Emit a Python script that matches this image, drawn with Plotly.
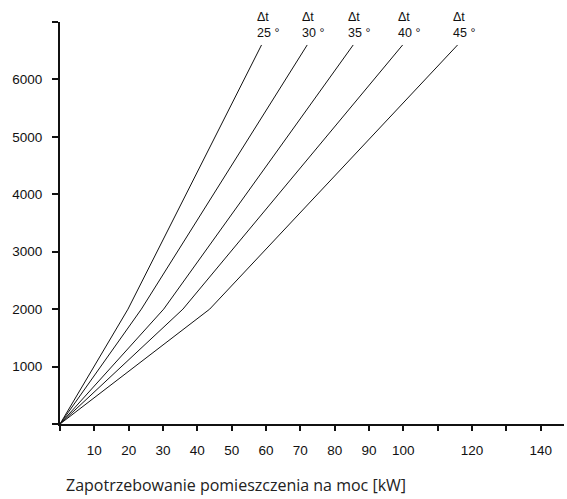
import plotly.graph_objects as go

# Data
series_labels = ["25 °", "30 °", "35 °", "40 °", "45 °"]
x_origin = [0, 0, 0, 0, 0]
y_origin = [0, 0, 0, 0, 0]
x_knee = [19.8, 23.7, 30.2, 35.8, 43.6]
y_knee = [2000, 2000, 2000, 2000, 2000]
x_top = [58.7, 72.0, 85.4, 99.8, 115.8]
y_top = [6600, 6600, 6600, 6600, 6600]

x_tickvals = list(range(0, 150, 10))
x_ticktext = ["", "10", "20", "30", "40", "50", "60", "70", "80", "90", "100", "", "120", "", "140"]
y_tickvals = list(range(0, 8000, 1000))
y_ticktext = ["", "1000", "2000", "3000", "4000", "5000", "6000", ""]

x_title = "Zapotrzebowanie pomieszczenia na moc [kW]"

fig = go.Figure()
for i, lab in enumerate(series_labels):
    fig.add_trace(go.Scatter(
        x=[x_origin[i], x_knee[i], x_top[i]],
        y=[y_origin[i], y_knee[i], y_top[i]],
        mode="lines",
        line=dict(color="#111111", width=1),
        showlegend=False,
        hoverinfo="skip",
    ))
    fig.add_annotation(
        x=x_top[i], y=y_top[i], xref="x", yref="y",
        text="Δt<br>" + lab, showarrow=False,
        xanchor="left", yanchor="bottom", align="left",
        xshift=-7, yshift=3,
        font=dict(family="Liberation Sans", size=12.5, color="#111111"),
    )

fig.add_annotation(
    x=0.008, y=-0.152, xref="paper", yref="paper",
    text=x_title, showarrow=False, xanchor="left", yanchor="middle",
    font=dict(family="Open Sans", size=16, color="#222222"),
)

axis_font = dict(family="Liberation Sans", size=13.5, color="#111111")
fig.update_layout(
    width=567, height=499,
    margin=dict(l=60, r=3, t=22, b=75),
    paper_bgcolor="white", plot_bgcolor="white",
    xaxis=dict(
        range=[0, 146.8], showgrid=False, zeroline=False,
        showline=True, linecolor="#111111", linewidth=2,
        ticks="outside", ticklen=5, tickwidth=2, tickcolor="#111111",
        tickvals=x_tickvals, ticktext=x_ticktext, tickfont=axis_font,
        ticklabelstandoff=8,
    ),
    yaxis=dict(
        range=[0, 7000], showgrid=False, zeroline=False,
        showline=True, linecolor="#111111", linewidth=2,
        ticks="outside", ticklen=6, tickwidth=2, tickcolor="#111111",
        tickvals=y_tickvals, ticktext=y_ticktext, tickfont=axis_font,
        ticklabelstandoff=7,
    ),
)

fig.write_html("out.html")
